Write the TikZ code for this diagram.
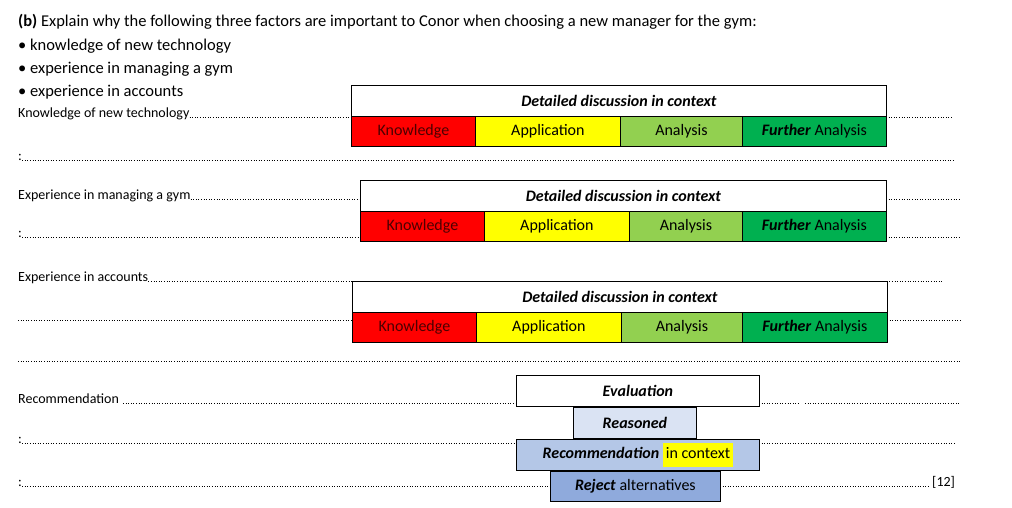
\documentclass[tikz,border=0pt]{standalone}
\usepackage{fontspec}
\setmainfont{Carlito}
\definecolor{kred}{HTML}{FF0000}
\definecolor{kyellow}{HTML}{FFFF00}
\definecolor{klgreen}{HTML}{92D050}
\definecolor{kgreen}{HTML}{00B050}
\definecolor{blueA}{HTML}{DAE3F3}
\definecolor{blueB}{HTML}{B4C7E7}
\definecolor{blueC}{HTML}{8FAADC}
\begin{document}
\begin{tikzpicture}[x=1pt,y=-1pt,
    txt/.style={anchor=base west,inner sep=0pt,font=\fontsize{14}{16}\selectfont},
    big/.style={anchor=base west,inner sep=0pt,font=\fontsize{16.5}{18}\selectfont},
    dots/.style={dotted,line width=0.6pt},
    cell/.style={draw,line width=0.8pt,font=\fontsize{16}{18}\selectfont}]
    \useasboundingbox (0,0) rectangle (1012,507);
    % question
    \node[big] (q) at (18,26) {\textbf{(b)} Explain why the following three factors are important to Conor when choosing a new manager for the gym:};
    \node[big] (b1) at (18,50) {• knowledge of new technology};
    \node[big] (b2) at (18,73) {• experience in managing a gym};
    \node[big] (b3) at (18,96) {• experience in accounts};
    % answer lines
    \node[txt] (l1) at (18,117) {Knowledge of new technology};
    \draw[dots] (l1.base east) -- (351,117) (886,117) -- (953,117);
    \node[txt] (l2) at (18,160) {:};
    \draw[dots] (l2.base east) -- (953,160);
    \node[txt] (l3) at (18,199) {Experience in managing a gym};
    \draw[dots] (l3.base east) -- (360,199) (886,199) -- (960,199);
    \node[txt] (l4) at (18,237) {:};
    \draw[dots] (l4.base east) -- (360,237) (886,237) -- (960,237);
    \node[txt] (l5) at (18,281) {Experience in accounts};
    \draw[dots] (l5.base east) -- (943,281);
    \coordinate (l6) at (18,320);
    \draw[dots] (l6) -- (352,320) (887,320) -- (960,320);
    \coordinate (l7) at (18,361);
    \draw[dots] (l7) -- (960,361);
    \node[txt] (l8) at (18,403) {Recommendation};
    \draw[dots] ([xshift=4pt]l8.base east) -- (516,403) (759,403) -- (800,403) (805,403) -- (960,403);
    \node[txt] (l9) at (18,443) {:};
    \draw[dots] (l9.base east) -- (516,443) (759,443) -- (955,443);
    \node[txt] (l10) at (18,486) {:};
    \draw[dots] (l10.base east) -- (550,486) (720,486) -- (930,486);
    \node[txt] (mark) at (932,486) {[12]};
    % marking grids
    \foreach \n/\x/\y/\a/\b/\c/\e in {1/351/85/475/620/742/886, 2/360/180/484/629/742/886, 3/352/281/476/621/742/887}{
        \node[cell,fill=white,minimum width=\e-\x,minimum height=31,anchor=north west] (d\n) at (\x,\y) {\textbf{\textit{Detailed discussion in context}}};
        \node[cell,fill=kred,text=black!70!red,minimum width=\a-\x,minimum height=30,anchor=north west] (k\n) at (\x,\y+31) {Knowledge};
        \node[cell,fill=kyellow,minimum width=\b-\a,minimum height=30,anchor=north west] (ap\n) at (\a,\y+31) {Application};
        \node[cell,fill=klgreen,minimum width=\c-\b,minimum height=30,anchor=north west] (an\n) at (\b,\y+31) {Analysis};
        \node[cell,fill=kgreen,minimum width=\e-\c,minimum height=30,anchor=north west] (fa\n) at (\c,\y+31) {\textbf{\textit{Further}} Analysis};
    }
    % evaluation
    \node[cell,fill=white,minimum width=243,minimum height=31,anchor=north west] (ev) at (516,375) {\textbf{\textit{Evaluation}}};
    \node[cell,fill=blueA,minimum width=123,minimum height=31,anchor=north west] (re) at (573,407) {\textbf{\textit{Reasoned}}};
    \node[cell,fill=blueB,minimum width=243,minimum height=31,anchor=north west] (rc) at (516,439) {\textbf{\textit{Recommendation}} \colorbox{kyellow}{\strut in context}};
    \node[cell,fill=blueC,minimum width=170,minimum height=30,anchor=north west] (rj) at (550,471) {\textbf{\textit{Reject}} alternatives};
\end{tikzpicture}
\end{document}
